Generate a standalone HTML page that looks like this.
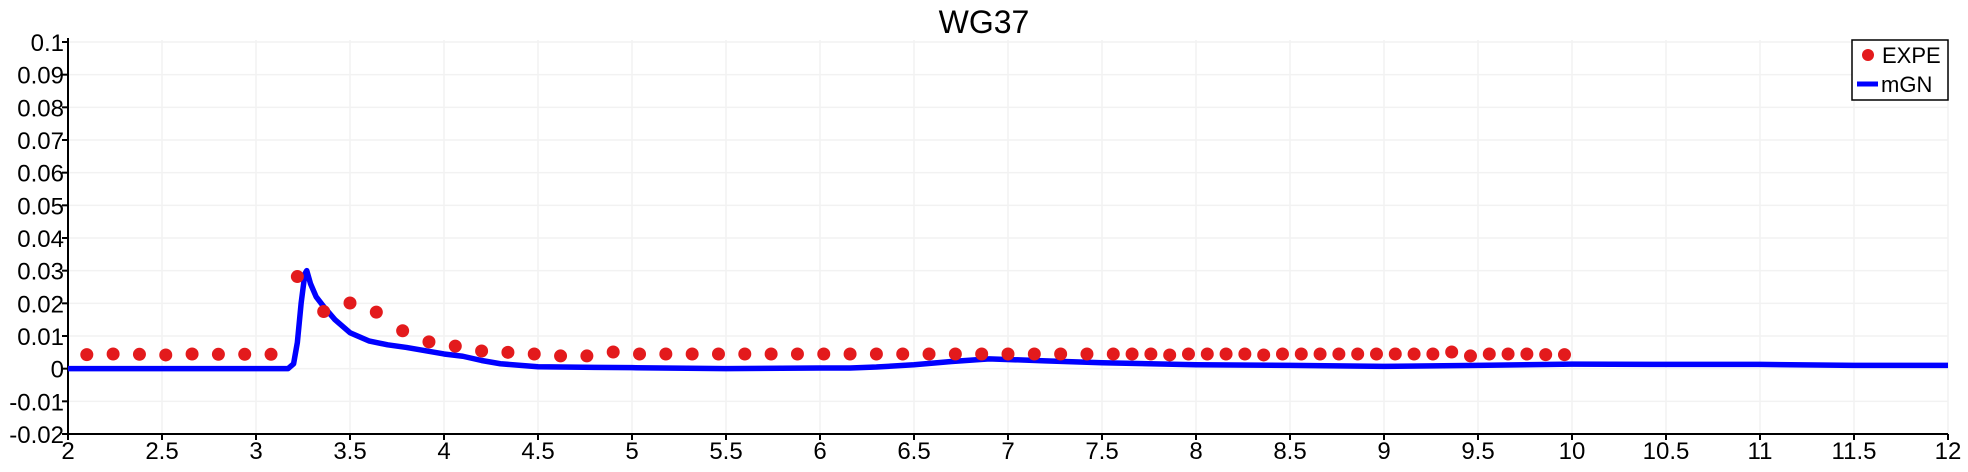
<!DOCTYPE html>
<html><head><meta charset="utf-8"><style>
html,body{margin:0;padding:0;background:#fff;}
svg{display:block;font-family:"Liberation Sans",sans-serif;}
</style></head><body>
<svg id="chart" width="1968" height="472" viewBox="0 0 1968 472"></svg>
<script>
const xTicks=[2,2.5,3,3.5,4,4.5,5,5.5,6,6.5,7,7.5,8,8.5,9,9.5,10,10.5,11,11.5,12];
const yTicks=[-0.02,-0.01,0,0.01,0.02,0.03,0.04,0.05,0.06,0.07,0.08,0.09,0.1];
const yTickLabels=["-0.02","-0.01","0","0.01","0.02","0.03","0.04","0.05","0.06","0.07","0.08","0.09","0.1"];
const expeX=[2.10,2.24,2.38,2.52,2.66,2.80,2.94,3.08,3.22,3.36,3.50,3.64,3.78,3.92,4.06,4.20,4.34,4.48,4.62,4.76,4.90,5.04,5.18,5.32,5.46,5.60,5.74,5.88,6.02,6.16,6.30,6.44,6.58,6.72,6.86,7.00,7.14,7.28,7.42,7.56,7.66,7.76,7.86,7.96,8.06,8.16,8.26,8.36,8.46,8.56,8.66,8.76,8.86,8.96,9.06,9.16,9.26,9.36,9.46,9.56,9.66,9.76,9.86,9.96];
const expeY=[0.0043,0.0045,0.0044,0.0042,0.0045,0.0044,0.0044,0.0044,0.0282,0.0175,0.0201,0.0173,0.0116,0.0082,0.0069,0.0054,0.0050,0.0045,0.0039,0.0039,0.0051,0.0045,0.0045,0.0045,0.0045,0.0045,0.0045,0.0045,0.0045,0.0045,0.0045,0.0045,0.0045,0.0045,0.0045,0.0045,0.0045,0.0045,0.0045,0.0045,0.0045,0.0045,0.0042,0.0045,0.0045,0.0045,0.0045,0.0042,0.0045,0.0045,0.0045,0.0045,0.0045,0.0045,0.0045,0.0045,0.0045,0.0051,0.0039,0.0045,0.0045,0.0045,0.0043,0.0043];
const mgnX=[2.0,3.0,3.17,3.20,3.22,3.24,3.26,3.27,3.29,3.32,3.36,3.42,3.50,3.60,3.70,3.80,3.90,4.00,4.10,4.20,4.30,4.50,4.80,5.00,5.50,6.00,6.16,6.30,6.50,6.70,6.90,7.20,7.50,8.00,8.50,9.00,9.50,10.0,10.5,11.0,11.5,12.0];
const mgnY=[0,0,0,0.0015,0.008,0.02,0.029,0.030,0.026,0.022,0.019,0.015,0.011,0.0085,0.0073,0.0065,0.0055,0.0045,0.0038,0.0025,0.0015,0.0006,0.0004,0.0003,0.0000,0.0002,0.0002,0.0005,0.0012,0.0022,0.0030,0.0024,0.0018,0.0012,0.0010,0.0007,0.0010,0.0014,0.0013,0.0013,0.0010,0.0010];
const NS="http://www.w3.org/2000/svg";
const svg=document.getElementById('chart');
const L=68,R=1948,T=42,B=434;
const xs=v=>L+(v-2)/10*(R-L);
const ys=v=>B-(v+0.02)/0.12*(B-T);
function mk(tag,attrs,parent){const e=document.createElementNS(NS,tag);for(const k in attrs)e.setAttribute(k,attrs[k]);(parent||svg).appendChild(e);return e;}
const title=mk('text',{x:984,y:33,'text-anchor':'middle','font-size':32,fill:'#000'});


title.textContent='WG37';
const grid=mk('g',{stroke:'#f2f2f2','stroke-width':1.5});


xTicks.forEach(v=>mk('line',{x1:xs(v),x2:xs(v),y1:T-2,y2:B},grid));
yTicks.forEach(v=>mk('line',{x1:L,x2:R,y1:ys(v),y2:ys(v)},grid));
const ax=mk('g',{stroke:'#000','stroke-width':2});


mk('line',{x1:L,x2:L,y1:T-4,y2:B+1},ax);
mk('line',{x1:L-1,x2:R,y1:B,y2:B},ax);
xTicks.forEach(v=>mk('line',{x1:xs(v),x2:xs(v),y1:B,y2:B+6},ax));
yTicks.forEach(v=>mk('line',{x1:L-6,x2:L,y1:ys(v),y2:ys(v)},ax));
const xl=mk('g',{'font-size':24,'text-anchor':'middle',fill:'#000'});


xTicks.forEach(v=>{const t=mk('text',{x:xs(v),y:459},xl);t.textContent=String(v);});
const yl=mk('g',{'font-size':24,'text-anchor':'end',fill:'#000'});


yTicks.forEach((v,i)=>{const t=mk('text',{x:L-4,y:ys(v)+9},yl);t.textContent=yTickLabels[i];});
const lg=mk('g',{});


mk('polyline',{points:mgnX.map((x,i)=>xs(x)+','+ys(mgnY[i])).join(' '),fill:'none',stroke:'#0000ff','stroke-width':5.5,'stroke-linejoin':'round'},lg);
const pg=mk('g',{fill:'#e31a1c'});


expeX.forEach((x,i)=>{const c=mk('circle',{cx:xs(x),cy:ys(expeY[i]),r:6.5},pg);

});
const leg=mk('g',{});


mk('rect',{x:1852,y:40,width:96,height:60,fill:'#fff',stroke:'#000','stroke-width':1.5},leg);
mk('circle',{cx:1868,cy:55,r:6,fill:'#e31a1c'},leg);
const t1=mk('text',{x:1882,y:63,'font-size':22},leg);t1.textContent='EXPE';
mk('line',{x1:1857,x2:1878,y1:84,y2:84,stroke:'#0000ff','stroke-width':5},leg);
const t2=mk('text',{x:1881,y:92,'font-size':22},leg);t2.textContent='mGN';
</script>
</body></html>
